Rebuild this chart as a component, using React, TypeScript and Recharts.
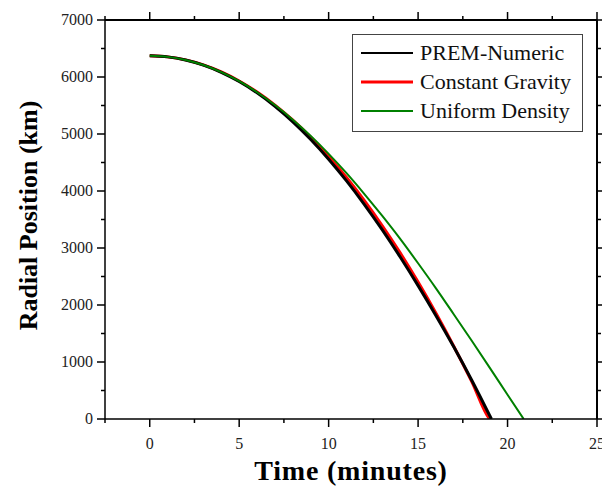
import { LineChart, Line, XAxis, YAxis, Legend, CartesianGrid } from 'recharts';

document.body.style.margin = '0';

const SERIF = '"Liberation Serif", "DejaVu Serif", serif';

// time in minutes, radius in km
const premTime = [0, 1, 2, 3, 4, 5, 6, 7, 8, 9, 10, 11, 12, 13, 14, 15, 16, 17, 18, 19, 19.1];
const premRadius = [6371, 6353, 6299, 6209, 6083, 5921, 5722, 5487, 5214, 4904, 4558, 4177, 3762, 3317, 2842, 2340, 1813, 1262, 680, 62, 0];

const gravityTime = [0, 1, 2, 3, 4, 5, 6, 7, 8, 9, 10, 11, 12, 13, 14, 15, 16, 17, 18, 19, 19.01];
const gravityRadius = [6371, 6353, 6300, 6212, 6089, 5930, 5736, 5507, 5242, 4942, 4607, 4237, 3831, 3390, 2914, 2402, 1855, 1273, 656, 3, 0];

const uniformTime = [0, 1, 2, 3, 4, 5, 6, 7, 8, 9, 10, 11, 12, 13, 14, 15, 16, 17, 18, 19, 20, 20.9];
const uniformRadius = [6371, 6353, 6299, 6210, 6085, 5926, 5733, 5508, 5252, 4967, 4652, 4313, 3947, 3562, 3159, 2732, 2292, 1834, 1372, 902, 425, 0];

const xTicks = [-2.5, 0, 2.5, 5, 7.5, 10, 12.5, 15, 17.5, 20, 22.5, 25];
const yTicks = [0, 500, 1000, 1500, 2000, 2500, 3000, 3500, 4000, 4500, 5000, 5500, 6000, 6500, 7000];

const legendOrder = ['PREM-Numeric', 'Constant Gravity', 'Uniform Density'];
const legendWidth: Record<string, number> = {
  'PREM-Numeric': 2,
  'Constant Gravity': 3,
  'Uniform Density': 2,
};

const toRows = (t: number[], r: number[]) => t.map((v, i) => ({ t: v, r: r[i] }));

const premData = toRows(premTime, premRadius);
const gravityData = toRows(gravityTime, gravityRadius);
const uniformData = toRows(uniformTime, uniformRadius);

const MAJOR = 8;
const MINOR = 4;

function XTick({ x, y, payload, side }: any) {
  const v = payload.value;
  const major = v % 5 === 0;
  const len = major ? MAJOR : MINOR;
  const dir = side === 'top' ? -1 : 1;
  return (
    <g>
      <line x1={x} x2={x} y1={y} y2={y + dir * len} stroke="#000" strokeWidth={1.5} />
      {major && side !== 'top' && (
        <text x={x} y={y + 30} textAnchor="middle" fontSize={16} fill="#222" fontFamily={SERIF}>
          {v}
        </text>
      )}
    </g>
  );
}

function YTick({ x, y, payload, side }: any) {
  const v = payload.value;
  const major = v % 1000 === 0;
  const len = major ? MAJOR : MINOR;
  const dir = side === 'right' ? 1 : -1;
  return (
    <g>
      <line x1={x} x2={x + dir * len} y1={y} y2={y} stroke="#000" strokeWidth={1.5} />
      {major && side !== 'right' && (
        <text x={x - 12} y={y + 5} textAnchor="end" fontSize={16} fill="#222" fontFamily={SERIF}>
          {v}
        </text>
      )}
    </g>
  );
}

function renderLegend(props: any) {
  const items = [...(props.payload || [])].sort(
    (a: any, b: any) => legendOrder.indexOf(a.value) - legendOrder.indexOf(b.value)
  );
  return (
    <div
      style={{
        border: '1px solid #444',
        background: '#fff',
        padding: '3px 8px 3px 8px',
        fontFamily: SERIF,
        fontSize: 22,
        color: '#111',
        boxSizing: 'border-box',
        width: 231,
        height: 98,
      }}
    >
      {items.map((p: any) => (
        <div key={p.value} style={{ display: 'flex', alignItems: 'center', height: 29 }}>
          <svg width={52} height={6} style={{ display: 'block' }}>
            <line x1={0} x2={52} y1={3} y2={3} stroke={p.color} strokeWidth={legendWidth[p.value]} />
          </svg>
          <span style={{ marginLeft: 7, lineHeight: '29px' }}>{p.value}</span>
        </div>
      ))}
    </div>
  );
}

const axisLine = { stroke: '#000', strokeWidth: 1.5 };

export default function App() {
  return (
    <LineChart width={602} height={491} margin={{ top: 19, right: 4, bottom: 0, left: 0 }}>
      {/* top and right edges of the frame */}
      <CartesianGrid
        horizontalValues={[7000]}
        verticalValues={[25]}
        stroke="#000"
        strokeWidth={2}
        strokeOpacity={1}
      />
      <XAxis
        dataKey="t"
        type="number"
        domain={[-2.5, 25]}
        ticks={xTicks}
        allowDataOverflow
        height={72}
        axisLine={axisLine}
        tickSize={0}
        tickMargin={0}
        tickLine={false}
        tick={<XTick side="bottom" />}
        interval={0}
        label={(props: any) => {
          const vb = props.viewBox;
          return (
            <text
              x={vb.x + vb.width / 2}
              y={480}
              textAnchor="middle"
              fontSize={28}
              fontWeight="bold"
              letterSpacing={0.8}
              fontFamily={SERIF}
              fill="#000"
            >
              Time (minutes)
            </text>
          );
        }}
      />
      <XAxis
        xAxisId="top"
        orientation="top"
        dataKey="t"
        type="number"
        domain={[-2.5, 25]}
        ticks={xTicks}
        allowDataOverflow
        height={1}
        axisLine={axisLine}
        tickSize={0}
        tickMargin={0}
        tickLine={false}
        tick={<XTick side="top" />}
        interval={0}
      />
      <YAxis
        type="number"
        domain={[0, 7000]}
        ticks={yTicks}
        allowDataOverflow
        width={105}
        axisLine={axisLine}
        tickSize={0}
        tickMargin={0}
        tickLine={false}
        tick={<YTick side="left" />}
        interval={0}
        label={(props: any) => {
          const vb = props.viewBox;
          const cy = vb.y + vb.height / 2 - 4;
          return (
            <text
              x={37}
              y={cy}
              transform={`rotate(-90, 37, ${cy})`}
              textAnchor="middle"
              fontSize={26}
              fontWeight="bold"
              fontFamily={SERIF}
              fill="#000"
            >
              Radial Position (km)
            </text>
          );
        }}
      />
      <YAxis
        yAxisId="right"
        orientation="right"
        type="number"
        domain={[0, 7000]}
        ticks={yTicks}
        allowDataOverflow
        width={1}
        axisLine={axisLine}
        tickSize={0}
        tickMargin={0}
        tickLine={false}
        tick={<YTick side="right" />}
        interval={0}
      />
      <Legend
        layout="vertical"
        align="center"
        verticalAlign="middle"
        content={renderLegend}
        wrapperStyle={{ left: 352, top: 34, width: 231, height: 98 }}
      />
      {/* drawn on the mirrored top/right axes so they get rendered (same domains) */}
      <Line
        data={gravityData}
        xAxisId="top"
        yAxisId="right"
        dataKey="r"
        name="Constant Gravity"
        type="monotone"
        stroke="#ff0000"
        strokeWidth={3}
        dot={false}
        isAnimationActive={false}
      />
      <Line
        data={premData}
        dataKey="r"
        name="PREM-Numeric"
        type="monotone"
        stroke="#000000"
        strokeWidth={3}
        dot={false}
        isAnimationActive={false}
      />
      <Line
        data={uniformData}
        dataKey="r"
        name="Uniform Density"
        type="monotone"
        stroke="#008000"
        strokeWidth={2}
        dot={false}
        isAnimationActive={false}
      />
    </LineChart>
  );
}
